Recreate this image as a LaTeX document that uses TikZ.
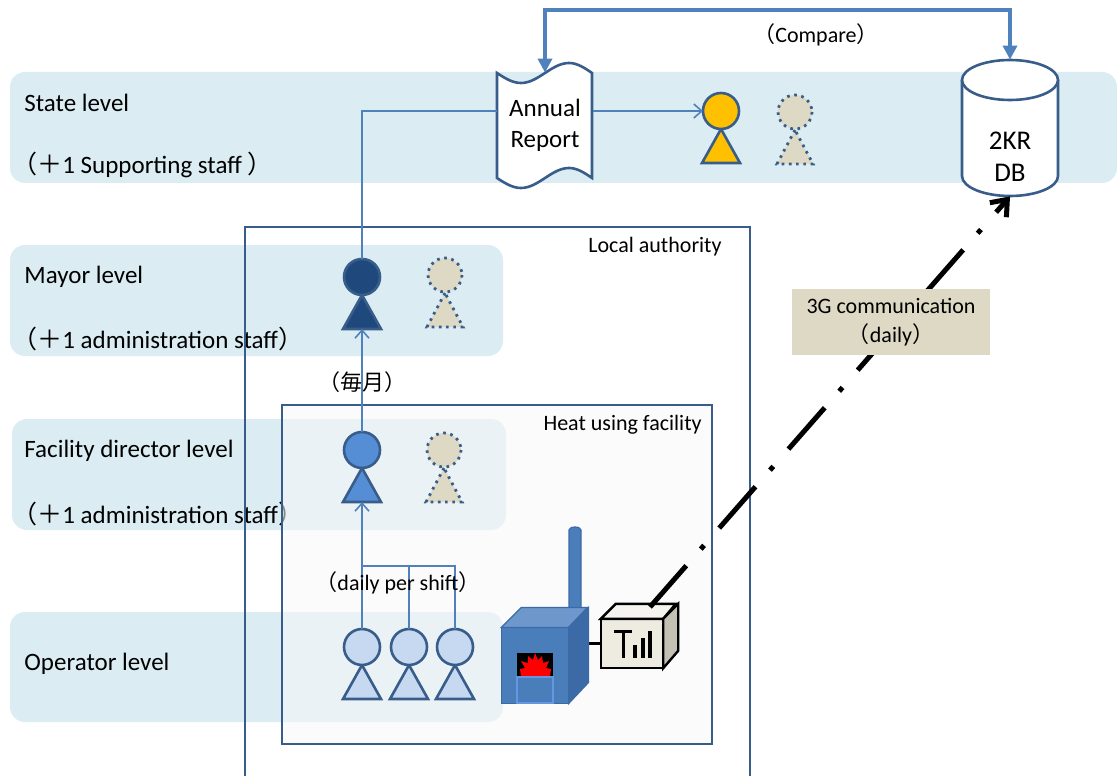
\documentclass[tikz,border=0pt]{standalone}
\usepackage{fontspec}
\setmainfont{Carlito}
\newfontfamily\jpfont{Noto Sans CJK JP}
\newcommand{\jp}[1]{{\jpfont #1}}
\usepackage{tikz}
\usetikzlibrary{arrows.meta, positioning}

\definecolor{bandblue}{RGB}{219,237,243}
\definecolor{edgeblue}{RGB}{56,93,138}
\definecolor{linkblue}{RGB}{79,129,189}
\definecolor{navy}{RGB}{31,73,125}
\definecolor{midblue}{RGB}{85,142,213}
\definecolor{paleblue}{RGB}{198,217,241}
\definecolor{amber}{RGB}{255,192,0}
\definecolor{khaki}{RGB}{221,217,196}
\definecolor{boilfront}{RGB}{74,126,187}
\definecolor{boiltop}{RGB}{110,151,204}
\definecolor{boilside}{RGB}{60,106,166}
\definecolor{doorline}{RGB}{100,150,225}
\definecolor{devfront}{RGB}{238,236,225}
\definecolor{devtop}{RGB}{245,244,238}
\definecolor{devside}{RGB}{196,193,180}

\tikzset{
  % staff member: head on a triangle
  person/.pic={
    \coordinate (-head) at (0,0);
    \coordinate (-left) at (-18,0);
    \coordinate (-top) at (0,-18);
    \coordinate (-base) at (0,52);
    \draw[outl, fill=#1] (0,18) -- (-19,52) -- (19,52) -- cycle;
    \draw[outl, fill=#1] (0,0) circle [radius=18];
  },
  % extra (supporting) staff, dotted
  vacant/.pic={
    \draw[spare] (0,18) -- (-18,52) -- (18,52) -- cycle;
    \draw[spare] (0,0) circle [radius=17];
  }
}

\begin{document}
\begin{tikzpicture}[x=0.5pt, y=-0.5pt,
    band/.style={fill=bandblue, rounded corners=7.5pt},
    lvl/.style={anchor=west, inner sep=0pt, font=\fontsize{12.5}{15}\selectfont},
    tag/.style={inner sep=0pt, font=\fontsize{11}{13}\selectfont},
    box/.style={draw=edgeblue, line width=1.4pt},
    outl/.style={draw=edgeblue, line width=1.3pt},
    spare/.style={draw=edgeblue, fill=khaki, line width=1.4pt, dash pattern=on 1.3pt off 2.3pt},
    flow/.style={draw=linkblue, line width=0.8pt},
    devline/.style={draw=black, line width=1.2pt},
    boilline/.style={draw=boilside, line width=0.6pt},
    >={Straight Barb[length=4pt, width=7pt]}]
\useasboundingbox (0,0) rectangle (1117,775);

% level bands
\fill[band] (10,72) rectangle (1117,183);
\fill[band] (10,245) rectangle (503,356);
\fill[band] (12,419) rectangle (506,530);
\fill[band] (10,612) rectangle (503,722);

% level names
\node[lvl] (stname) at (24,103) {State level};
\node[lvl] (stnote) at (12,165) {\jp{（＋}1 Supporting staff \jp{）}};
\node[lvl] (myname) at (24,277) {Mayor level};
\node[lvl] (mynote) at (12,339) {\jp{（＋}1 administration staff\jp{）}};
\node[lvl] (fdname) at (24,451) {Facility director level};
\node[lvl] (fdnote) at (12,514) {\jp{（＋}1 administration staff\jp{）}};
\node[lvl] (opname) at (24,664) {Operator level};

% local authority and facility frames
\draw[box] (245,790) -- (245,227) -- (750,227) -- (750,790);
\draw[box, fill=black!3, fill opacity=0.55] (282,405) rectangle (712,744);
\node[tag, anchor=east] (latag) at (722,247) {Local authority};
\node[tag, anchor=east] (hftag) at (702,425) {Heat using facility};

% staff
\pic (st) at (721,111) {person=amber};
\pic (stx) at (795,112) {vacant};
\pic (my) at (362,277) {person=navy};
\pic (myx) at (445,275) {vacant};
\pic (fd) at (362,450) {person=midblue};
\pic (fdx) at (444,450) {vacant};
\pic (op1) at (362,647) {person=paleblue};
\pic (op2) at (409,647) {person=paleblue};
\pic (op3) at (455,647) {person=paleblue};

% annual report (punched tape outline)
\draw[outl, fill=white] (497,73) sin (521,83) cos (545,73) sin (569,63) cos (592,73)
  -- (592,178) sin (569,168) cos (545,178) sin (521,188) cos (497,178) -- cycle;
\node[align=center, font=\fontsize{12.5}{15.5}\selectfont, minimum width=47.5pt, minimum height=52.5pt] (report) at (545,125.5) {Annual\\Report};

% database
\draw[outl, fill=white] (962,80) -- (962,176) arc [start angle=180, end angle=0, x radius=48, y radius=20] -- (1058,80);
\draw[outl, fill=white] (1010,80) ellipse [x radius=48, y radius=20];
\node[minimum width=48pt, minimum height=68pt] (db) at (1010,128) {};
\node[align=center, font=\fontsize{13.5}{16}\selectfont] (dbname) at (1010,157) {2KR\\DB};

% reporting lines
\coordinate (tie) at (362,566);
\draw[flow] (op1-top) -- (tie) -| (op3-top);
\draw[flow] (op2-top) -- (op2-top |- tie);
\draw[flow, ->] (tie) -- (fd-base);
\draw[flow, ->] (fd-top) -- (my-base);
\draw[flow] (my-top) |- (report.west |- st-head);
\draw[flow, ->] (report.east |- st-head) -- (st-left);
\node[tag] (monthly) at (362,382) {\jp{（毎月）}};
\node[tag] (shift) at (398,583) {\jp{（}daily per shift\jp{）}};

% compare loop
\coordinate (cmp) at (545,10);
\draw[linkblue, line width=1.8pt, {Triangle[length=7pt, width=7pt]}-{Triangle[length=7pt, width=7pt]}] (report.north) -- (cmp) -| (db.north);
\node[tag] (cmptag) at (816,35) {\jp{（}Compare\jp{）}};

% boiler with chimney
\node[fill=boilfront, boilline, minimum width=33pt, minimum height=37.5pt, inner sep=0pt] (boiler) at (535,665.5) {};
\node[fill=devfront, devline, minimum width=30pt, minimum height=23.5pt, inner sep=0pt] (dev) at (632,643.5) {};
\draw[black, line width=1.7pt] (boiler.east |- dev.west) -- (dev.west);
\draw[boilline, fill=boilfront] (569,612) -- (569,530) arc [start angle=180, end angle=0, x radius=6, y radius=-3] -- (581,612) -- cycle;
\draw[boilline, fill=boilfront] (boiler.north west) rectangle (boiler.south east);
\draw[boilline, fill=boiltop] (boiler.north west) -- ++(20,-20) -- ++(66,0) -- (boiler.north east) -- cycle;
\draw[boilline, fill=boilside] (boiler.north east) -- ++(20,-20) -- ++(0,75) -- (boiler.south east) -- cycle;
\fill[black] (517,653) rectangle (553,677);
\fill[red] (521,677) -- (520,669) -- (525,668) -- (521,661) -- (528,663) -- (528,656) -- (533,660)
  -- (535,653) -- (538,660) -- (542,656) -- (543,663) -- (549,661) -- (546,668) -- (551,669) -- (550,677) -- cycle;
\draw[draw=doorline, fill=boilfront, line width=1pt] (517,677) rectangle (553,703);

% 3G unit
\draw[devline, fill=devfront] (dev.north west) rectangle (dev.south east);
\draw[devline, fill=devtop] (dev.north west) -- ++(15,-15) -- ++(60,0) -- (dev.north east) -- cycle;
\draw[devline, fill=devside] (dev.north east) -- ++(15,-15) -- ++(0,47) -- (dev.south east) -- cycle;
\draw[line width=1.5pt] (614,631) -- (632,631) (623,631) -- (623,658);
\draw[line width=1.6pt] (635,658) -- (635,645) (643,658) -- (643,638) (650,658) -- (650,631);

% 3G link to the database
\coordinate (ant) at (650,607);
\draw[black, line width=2.5pt, dash pattern=on 27.5pt off 11pt on 2.5pt off 11.5pt, -{Straight Barb[length=7pt, width=11pt]}] (ant) -- (db.south);
\node[fill=khaki, align=center, minimum width=99pt, minimum height=33pt, font=\fontsize{11}{14.5}\selectfont] (g3) at (891,322) {3G communication\\\jp{（}daily\jp{）}};

\end{tikzpicture}
\end{document}
